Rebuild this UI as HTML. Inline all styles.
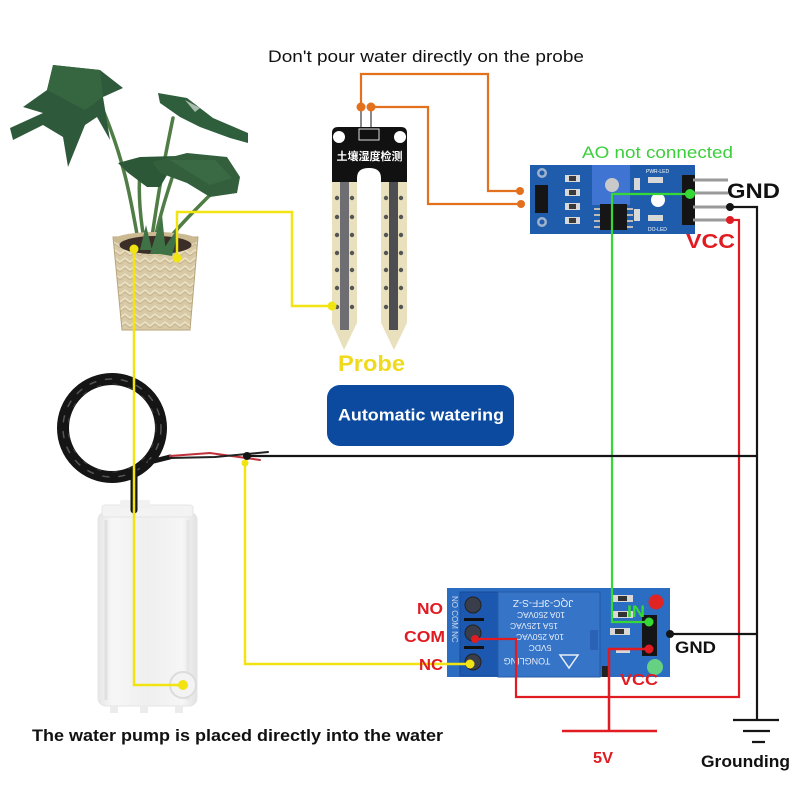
<!DOCTYPE html>
<html><head><meta charset="utf-8"><style>
html,body{margin:0;padding:0;background:#fff;}
svg{display:block;}
text{font-family:"Liberation Sans",Arial,sans-serif;}
</style></head><body>
<svg width="800" height="800" viewBox="0 0 800 800" xmlns="http://www.w3.org/2000/svg">
<defs>
<linearGradient id="pump" x1="0" x2="1" y1="0" y2="0">
<stop offset="0" stop-color="#e6e6e6"/><stop offset="0.15" stop-color="#f7f7f7"/><stop offset="0.5" stop-color="#efefef"/><stop offset="0.85" stop-color="#f6f6f6"/><stop offset="1" stop-color="#e2e2e2"/>
</linearGradient>
<pattern id="weave" width="10" height="8" patternUnits="userSpaceOnUse">
<rect width="10" height="8" fill="#d8caa6"/>
<path d="M0,6 L5,2 L10,6" stroke="#ebe1c6" stroke-width="1.6" fill="none"/>
<path d="M0,8 L5,4 L10,8" stroke="#c2b087" stroke-width="0.8" fill="none"/>
</pattern>
</defs>
<rect width="800" height="800" fill="#fff"/>

<!-- PLANT stems -->
<g fill="none" stroke="#4f7d45" stroke-width="3.5" stroke-linecap="round">
<path d="M140,250 C132,210 128,170 103,110"/>
<path d="M150,250 C156,210 160,180 173,118"/>
<path d="M158,252 C175,230 195,210 212,193"/>
<path d="M153,250 C158,220 168,190 176,166"/>
<path d="M146,250 C140,220 138,195 140,170"/>
</g>
<!-- leaves -->
<path d="M53,65 L100,70 L123,88 L103,97 L110,140 L97,117 L85,125 L68,167 L63,137 L43,125 L13,140 L10,128 L43,113 L23,107 L47,90 Z" fill="#2e5a3b"/>
<path d="M53,65 L100,70 L103,97 L85,110 L47,90 Z" fill="#36663f"/>
<path d="M158,93 L187,98 L213,118 L248,133 L248,143 L230,138 L200,127 L180,117 L160,103 Z" fill="#2f5e3c"/>
<path d="M185,100 L200,108 L195,112 Z" fill="#a9bcae"/>
<path d="M118,163 L140,157 L177,156 L170,170 L160,187 L147,187 L127,172 Z" fill="#2c5837"/>
<path d="M152,162 L187,153 L227,157 L240,177 L237,193 L210,197 L187,183 L160,173 Z" fill="#335f3d"/>
<path d="M170,160 L215,160 L232,178 L210,185 Z" fill="#3a6a44"/>

<!-- POT -->
<path d="M113,237 L198,237 L190,330 L122,330 Z" fill="url(#weave)"/>
<path d="M113,237 L198,237 L190,330 L122,330 Z" fill="none" stroke="#b8a47a" stroke-width="1"/>
<ellipse cx="155.5" cy="240" rx="42" ry="8" fill="#cbb991"/>
<ellipse cx="155.5" cy="245" rx="36" ry="9" fill="#3b2e28"/>
<path d="M140,250 L146,225 L152,250 Z M150,254 L162,215 L166,254 Z M160,254 L180,225 L172,256 Z" fill="#3f7346"/>

<!-- PROBE -->
<line x1="361" y1="107" x2="361" y2="130" stroke="#888" stroke-width="2"/>
<line x1="371" y1="107" x2="371" y2="130" stroke="#888" stroke-width="2"/>
<path d="M332,133 Q332,127 338,127 L401,127 Q407,127 407,133 L407,182 L381,182 L381,182 L381,178 Q381,168 369,168 Q357,168 357,178 L357,182 L332,182 Z" fill="#111"/>
<circle cx="339" cy="137" r="6" fill="#fff"/>
<circle cx="400" cy="137" r="6" fill="#fff"/>
<rect x="359" y="129" width="20" height="11" fill="none" stroke="#ddd" stroke-width="1"/>
<text x="369.5" y="160" font-size="11" font-weight="bold" fill="#fff" text-anchor="middle" style="font-family:'Noto Sans CJK SC','WenQuanYi Zen Hei',sans-serif">土壤湿度检测</text>
<path d="M332,182 L357,182 L357,323 L344,350 L332,323 Z" fill="#e9e1bd"/>
<path d="M381,182 L407,182 L407,323 L394,350 L381,323 Z" fill="#e9e1bd"/>
<rect x="340" y="182" width="9" height="148" fill="#6e6e72"/>
<rect x="389" y="182" width="9" height="148" fill="#4e4e52"/>
<g fill="#555">
<circle cx="337" cy="198" r="2.2"/><circle cx="352" cy="198" r="2.2"/><circle cx="386" cy="198" r="2.2"/><circle cx="401" cy="198" r="2.2"/>
<circle cx="337" cy="217" r="2.2"/><circle cx="352" cy="217" r="2.2"/><circle cx="386" cy="217" r="2.2"/><circle cx="401" cy="217" r="2.2"/>
<circle cx="337" cy="235" r="2.2"/><circle cx="352" cy="235" r="2.2"/><circle cx="386" cy="235" r="2.2"/><circle cx="401" cy="235" r="2.2"/>
<circle cx="337" cy="253" r="2.2"/><circle cx="352" cy="253" r="2.2"/><circle cx="386" cy="253" r="2.2"/><circle cx="401" cy="253" r="2.2"/>
<circle cx="337" cy="270" r="2.2"/><circle cx="352" cy="270" r="2.2"/><circle cx="386" cy="270" r="2.2"/><circle cx="401" cy="270" r="2.2"/>
<circle cx="337" cy="288" r="2.2"/><circle cx="352" cy="288" r="2.2"/><circle cx="386" cy="288" r="2.2"/><circle cx="401" cy="288" r="2.2"/>
<circle cx="337" cy="307" r="2.2"/><circle cx="352" cy="307" r="2.2"/><circle cx="386" cy="307" r="2.2"/><circle cx="401" cy="307" r="2.2"/>
</g>

<!-- SENSOR MODULE -->
<rect x="530" y="165" width="165" height="69" fill="#1f5cab"/>
<circle cx="542" cy="173" r="5" fill="#9fb3cc"/><circle cx="542" cy="173" r="2.5" fill="#1f5cab"/>
<circle cx="542" cy="222" r="5" fill="#9fb3cc"/><circle cx="542" cy="222" r="2.5" fill="#1f5cab"/>
<rect x="535" y="185" width="13" height="28" fill="#151515"/>
<g fill="#d8d8d8"><rect x="565" y="175" width="15" height="7"/><rect x="565" y="189" width="15" height="7"/><rect x="565" y="203" width="15" height="7"/><rect x="565" y="217" width="15" height="7"/>
<rect x="648" y="177" width="15" height="6"/><rect x="648" y="215" width="15" height="6"/><rect x="634" y="178" width="6" height="12"/><rect x="634" y="209" width="6" height="12"/></g>
<g fill="#3a3a3a"><rect x="569" y="176" width="7" height="5"/><rect x="569" y="190" width="7" height="5"/><rect x="569" y="204" width="7" height="5"/><rect x="569" y="218" width="7" height="5"/></g>
<rect x="592" y="165" width="38" height="40" fill="#3f74d2"/>
<circle cx="612" cy="185" r="7" fill="#c9c9c9"/>
<rect x="600" y="204" width="27" height="26" fill="#161616"/>
<g stroke="#bbb" stroke-width="2"><line x1="594" y1="209" x2="600" y2="209"/><line x1="594" y1="215" x2="600" y2="215"/><line x1="594" y1="221" x2="600" y2="221"/><line x1="594" y1="227" x2="600" y2="227"/>
<line x1="627" y1="209" x2="633" y2="209"/><line x1="627" y1="215" x2="633" y2="215"/><line x1="627" y1="221" x2="633" y2="221"/><line x1="627" y1="227" x2="633" y2="227"/></g>
<circle cx="658" cy="200" r="7" fill="#fff"/>
<text x="646" y="173" font-size="5" fill="#fff">PWR-LED</text>
<text x="648" y="231" font-size="5" fill="#fff">DO-LED</text>
<rect x="682" y="175" width="13" height="50" fill="#141414"/>
<g stroke="#9a9a9a" stroke-width="3"><line x1="693" y1="180" x2="728" y2="180"/><line x1="693" y1="193" x2="728" y2="193"/><line x1="693" y1="207" x2="728" y2="207"/><line x1="693" y1="220" x2="728" y2="220"/></g>

<!-- RELAY MODULE -->
<rect x="447" y="588" width="223" height="89" fill="#2b6dc2"/>
<text transform="translate(452,596) rotate(90)" font-size="8" fill="#cfd8e8">NO  COM  NC</text>
<rect x="460" y="592" width="38" height="84" fill="#1d58b0" stroke="#184a94"/>
<g fill="#3a3d4a" stroke="#222" stroke-width="1">
<circle cx="473" cy="605" r="8"/><circle cx="473" cy="633" r="8"/><circle cx="473" cy="662" r="8"/>
</g>
<rect x="464" y="618" width="20" height="3" fill="#111"/><rect x="464" y="646" width="20" height="3" fill="#111"/>
<rect x="498" y="592" width="102" height="85" fill="#3674c8" stroke="#245ca8"/>
<g fill="#e8eef8" font-size="8.5" text-anchor="middle">
<text transform="translate(543,600) rotate(180)" font-size="10">JQC-3FF-S-Z</text>
<text transform="translate(541,612) rotate(180)">10A 250VAC</text>
<text transform="translate(534,623) rotate(180)">15A 125VAC</text>
<text transform="translate(540,634) rotate(180)">10A 250VAC</text>
<text transform="translate(540,645) rotate(180)">5VDC</text>
<text transform="translate(527,658) rotate(180)" font-size="9">TONGLING</text>
</g>
<path d="M560,655 L578,655 L569,668 Z" fill="none" stroke="#e8eef8" stroke-width="1.5"/>
<rect x="590" y="630" width="8" height="20" fill="#2a63b5"/>
<g fill="#d8d8d8"><rect x="613" y="595" width="20" height="7"/><rect x="613" y="611" width="20" height="7"/><rect x="610" y="628" width="20" height="7"/><rect x="616" y="648" width="14" height="5"/></g>
<g fill="#333"><rect x="618" y="596" width="9" height="5"/><rect x="618" y="612" width="9" height="5"/><rect x="615" y="629" width="9" height="5"/></g>
<rect x="642" y="615" width="15" height="41" fill="#151515"/>
<rect x="602" y="666" width="8" height="11" fill="#222"/>
<circle cx="656" cy="602" r="7.5" fill="#e02424"/>
<circle cx="655" cy="667" r="8" fill="#66d083"/>

<!-- PUMP -->
<rect x="98" y="512" width="99" height="194" rx="8" fill="url(#pump)" stroke="#e4e4e4"/>
<rect x="102" y="505" width="91" height="12" rx="3" fill="#f3f3f3" stroke="#e6e6e6"/>
<rect x="120" y="500" width="30" height="8" rx="2" fill="#f1f1f1"/>
<line x1="106" y1="520" x2="106" y2="700" stroke="#e0e0e0" stroke-width="3"/>
<line x1="188" y1="520" x2="188" y2="700" stroke="#e6e6e6" stroke-width="3"/>
<rect x="110" y="705" width="8" height="8" fill="#ececec"/><rect x="140" y="705" width="8" height="8" fill="#ececec"/><rect x="175" y="705" width="8" height="8" fill="#ececec"/>
<circle cx="183" cy="685" r="13" fill="#f3f3f3" stroke="#dcdcdc" stroke-width="2"/>

<!-- CABLE -->
<g fill="none" stroke-linecap="round">
<ellipse cx="112" cy="428" rx="49" ry="49" stroke="#151515" stroke-width="12"/>
<ellipse cx="112" cy="428" rx="49" ry="49" stroke="#555" stroke-width="1.5" stroke-dasharray="6 10"/>
<ellipse cx="112" cy="428" rx="44" ry="44" stroke="#3a3a3a" stroke-width="1" stroke-dasharray="4 12"/>
<path d="M134,470 L134,510" stroke="#161616" stroke-width="7"/>
<path d="M150,462 L170,457" stroke="#161616" stroke-width="5"/>
<path d="M170,456 L210,453 L260,460" stroke="#c0303a" stroke-width="2"/>
<path d="M170,458 L215,457 L268,452" stroke="#222" stroke-width="2"/>
</g>

<!-- WIRES -->
<g fill="none" stroke-width="2.2">
<path d="M361,107 L361,74 L488,74 L488,191 L520,191" stroke="#e2701c"/>
<path d="M371,107 L428,107 L428,204 L521,204" stroke="#e2701c"/>
<path d="M134,249 L134,685 L183,685" stroke="#f2e313" stroke-width="2.5"/>
<path d="M177,258 L177,212 L292,212 L292,306 L332,306" stroke="#f2e313" stroke-width="2.5"/>
<path d="M245,463 L245,664 L470,664" stroke="#f2e313" stroke-width="2.5"/>
<path d="M690,194 L612,194 L612,622 L649,622" stroke="#36d836"/>
<path d="M730,220 L739,220 L739,697 L516,697 L516,639 L475,639" stroke="#e01b22"/>
<path d="M649,649 L609,649 L609,731" stroke="#e01b22" stroke-width="2.5"/>
<path d="M562,731 L657,731" stroke="#e01b22" stroke-width="2.5"/>
<path d="M730,207 L757,207 L757,720" stroke="#151515"/>
<path d="M247,456 L757,456" stroke="#151515"/>
<path d="M670,634 L757,634" stroke="#151515"/>
<path d="M733,720 L779,720 M743,731 L770,731 M752,742 L765,742" stroke="#151515"/>
</g>
<g>
<circle cx="361" cy="107" r="4.5" fill="#e2701c"/><circle cx="371" cy="107" r="4.5" fill="#e2701c"/>
<circle cx="520" cy="191" r="4" fill="#e2701c"/><circle cx="521" cy="204" r="4" fill="#e2701c"/>
<circle cx="134" cy="249" r="4.5" fill="#f2e313"/><circle cx="177" cy="258" r="4.5" fill="#f2e313"/>
<circle cx="332" cy="306" r="4.5" fill="#f2e313"/><circle cx="183" cy="685" r="5" fill="#f2e313"/>
<circle cx="245" cy="463" r="3.5" fill="#f2e313"/><circle cx="470" cy="664" r="4.5" fill="#f2e313"/>
<circle cx="690" cy="194" r="5" fill="#36d836"/><circle cx="649" cy="622" r="4.5" fill="#36d836"/>
<circle cx="730" cy="207" r="4" fill="#151515"/><circle cx="247" cy="456" r="4" fill="#151515"/>
<circle cx="670" cy="634" r="4" fill="#151515"/>
<circle cx="730" cy="220" r="4" fill="#e01b22"/><circle cx="475" cy="639" r="4" fill="#e01b22"/>
<circle cx="649" cy="649" r="4.5" fill="#e01b22"/>
</g>

<!-- BUTTON -->
<rect x="327" y="385" width="187" height="61" rx="13" fill="#0b4a9f"/>
<text x="338" y="420.5" font-size="16.5" font-weight="bold" fill="#fff" textLength="166" lengthAdjust="spacingAndGlyphs">Automatic watering</text>

<!-- LABELS -->
<text x="268" y="62" font-size="17" fill="#111" textLength="316" lengthAdjust="spacingAndGlyphs">Don't pour water directly on the probe</text>
<text x="582" y="158" font-size="17" fill="#3ccf3c" textLength="151" lengthAdjust="spacingAndGlyphs">AO not connected</text>
<text x="727" y="198" font-size="21" font-weight="bold" fill="#111" textLength="53" lengthAdjust="spacingAndGlyphs">GND</text>
<text x="686" y="248" font-size="20" font-weight="bold" fill="#e01b22" textLength="49" lengthAdjust="spacingAndGlyphs">VCC</text>
<text x="338" y="371" font-size="22" font-weight="bold" fill="#f0da1e" textLength="67" lengthAdjust="spacingAndGlyphs">Probe</text>
<text x="417" y="614" font-size="16" font-weight="bold" fill="#e01b22" textLength="26" lengthAdjust="spacingAndGlyphs">NO</text>
<text x="404" y="642" font-size="16" font-weight="bold" fill="#e01b22" textLength="41" lengthAdjust="spacingAndGlyphs">COM</text>
<text x="419" y="670" font-size="16" font-weight="bold" fill="#e01b22" textLength="24" lengthAdjust="spacingAndGlyphs">NC</text>
<text x="627" y="617" font-size="17" font-weight="bold" fill="#36d836" textLength="18" lengthAdjust="spacingAndGlyphs">IN</text>
<text x="675" y="653" font-size="17" font-weight="bold" fill="#111" textLength="41" lengthAdjust="spacingAndGlyphs">GND</text>
<text x="620" y="685" font-size="16" font-weight="bold" fill="#e01b22" textLength="38" lengthAdjust="spacingAndGlyphs">VCC</text>
<text x="593" y="763" font-size="16" font-weight="bold" fill="#e01b22" textLength="20" lengthAdjust="spacingAndGlyphs">5V</text>
<text x="701" y="767" font-size="17" font-weight="bold" fill="#111" textLength="89" lengthAdjust="spacingAndGlyphs">Grounding</text>
<text x="32" y="741" font-size="17" font-weight="bold" fill="#111" textLength="411" lengthAdjust="spacingAndGlyphs">The water pump is placed directly into the water</text>
</svg>
</body></html>
